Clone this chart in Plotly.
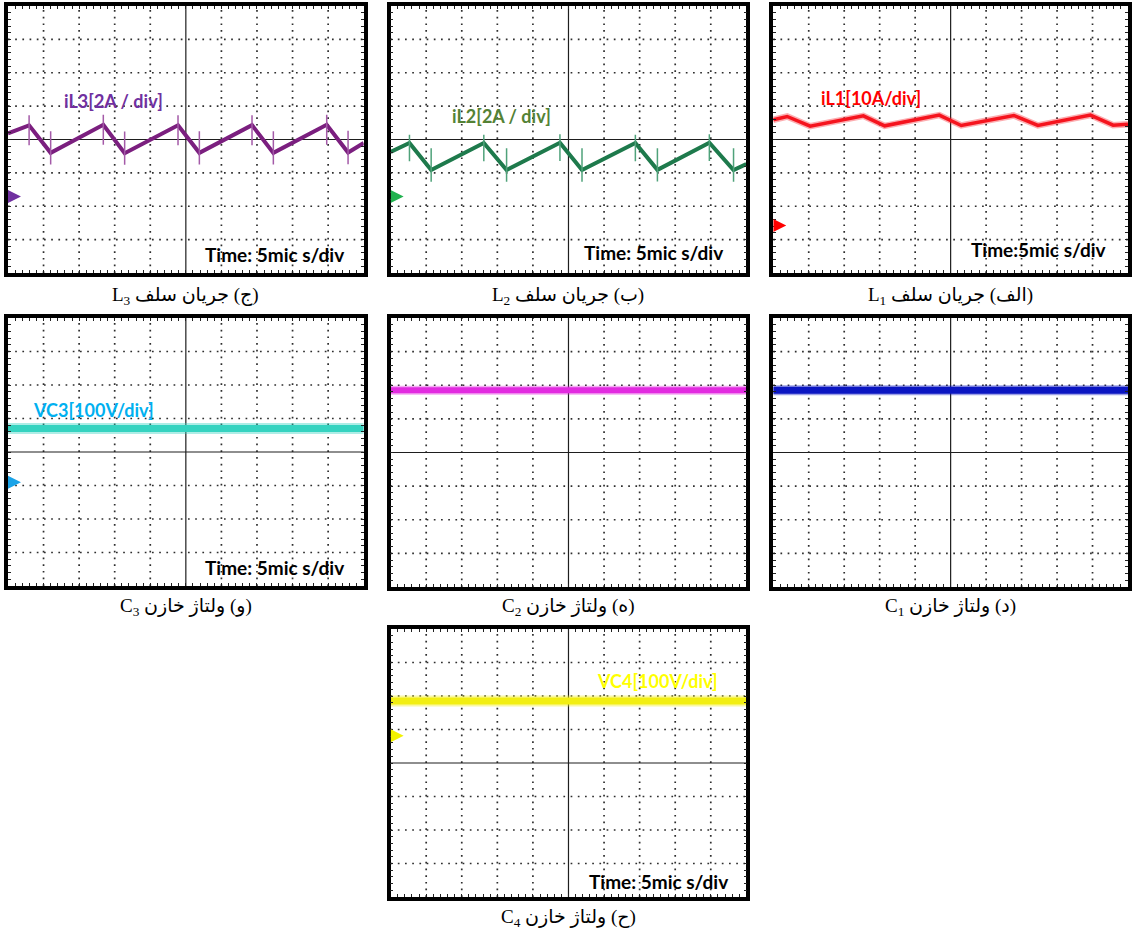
import plotly.graph_objects as go

# ---------------- measured waveforms ----------------
# time base: 10 divisions at 5 µs/div -> 0..50 µs on every screen
time_span_us = [0.0, 50.0]

# inductor L3 current, corners of the triangular ripple (µs, A)
il3_t = [0.0, 2.97, 6.0, 13.4, 16.4, 23.9, 26.9, 34.3, 37.3, 44.8, 47.8, 50.0]
il3_i = [3.79, 4.27, 2.62, 4.30, 2.60, 4.27, 2.62, 4.28, 2.62, 4.30, 2.64, 3.21]
# switching spikes on the corners: extent above / below the trace (A)
il3_spike_up = [0.6, 1.3, 0.6, 1.3, 0.6, 1.3, 0.6, 1.3, 0.6, 1.3]
il3_spike_dn = [1.2, 0.7, 1.2, 0.7, 1.2, 0.7, 1.2, 0.7, 1.2, 0.7]

# inductor L2 current (µs, A)
il2_t = [0.0, 2.65, 5.7, 13.1, 16.3, 23.8, 26.9, 34.4, 37.5, 44.8, 48.2, 50.0]
il2_i = [2.68, 3.21, 1.59, 3.21, 1.59, 3.23, 1.59, 3.21, 1.60, 3.23, 1.59, 1.95]
il2_spike_up = [0.5, 1.3, 0.5, 1.3, 0.5, 1.3, 0.5, 1.3, 0.5, 1.3]
il2_spike_dn = [1.1, 0.7, 1.1, 0.7, 1.1, 0.7, 1.1, 0.7, 1.1, 0.7]

# inductor L1 current (µs, A)
il1_t = [0.0, 1.96, 5.2, 12.7, 15.7, 23.4, 26.5, 33.9, 37.3, 44.7, 47.9, 50.0]
il1_i = [31.7, 32.7, 29.8, 32.9, 29.9, 33.1, 30.0, 33.0, 30.0, 33.1, 30.1, 30.4]

# capacitor voltages (V), flat over the whole sweep
vc3_v = [160.0, 160.0]
vc2_v = [185.0, 185.0]
vc1_v = [185.0, 185.0]
vc4_v = [104.0, 104.0]

W, H = 1132, 938


def fx(px):
    return px / W


def fy(py):
    return 1 - py / H


def caption(symbol, index, words):
    # Latin symbol on the left, the Persian phrase as a right-to-left run
    return "%s<sub>%s</sub> \u202b%s\u202c" % (symbol, index, words)


# ---------------- screen layout ----------------
panels = [
    dict(box=(8, 6, 365, 273), per_div=2, ground_div=-1.71,
         label="iL3[2A / div]", label_color="#7030A0", label_xy=(62, 101),
         time="Time: 5mic s/div", time_xy=(204, 254), gnd_color="#7030A0",
         caption=caption("L", 3, "(ج) جریان سلف"), cap_y=296),
    dict(box=(392, 6, 749, 273), per_div=2, ground_div=-1.71,
         label="iL2[2A / div]", label_color="#548235", label_xy=(452, 116),
         time="Time: 5mic s/div", time_xy=(584, 252), gnd_color="#21B24F",
         caption=caption("L", 2, "(ب) جریان سلف"), cap_y=296),
    dict(box=(776, 6, 1132, 273), per_div=10, ground_div=-2.58,
         label="iL1[10A/div]", label_color="#FF0000", label_xy=(822, 98),
         time="Time:5mic s/div", time_xy=(972, 250), gnd_color="#FF0000",
         caption=caption("L", 1, "(الف) جریان سلف"), cap_y=296),
    dict(box=(8, 318, 365, 586), per_div=100, ground_div=-0.9,
         label="VC3[100V/div]", label_color="#00B0F0", label_xy=(31, 410),
         time="Time: 5mic s/div", time_xy=(204, 567), gnd_color="#1AA3E8",
         caption=caption("C", 3, "(و) ولتاژ خازن"), cap_y=607),
    dict(box=(392, 318, 749, 587), per_div=100, ground_div=0.0,
         label=None, time=None, gnd_color=None,
         caption=caption("C", 2, "(ه) ولتاژ خازن"), cap_y=607),
    dict(box=(776, 318, 1132, 587), per_div=100, ground_div=0.0,
         label=None, time=None, gnd_color=None,
         caption=caption("C", 1, "(د) ولتاژ خازن"), cap_y=607),
    dict(box=(392, 629, 749, 897), per_div=100, ground_div=0.81,
         label="VC4[100V/div]", label_color="#FFFF00", label_xy=(597, 681),
         time="Time: 5mic s/div", time_xy=(589, 881), gnd_color="#F2F200",
         caption=caption("C", 4, "(ح) ولتاژ خازن"), cap_y=918),
]

fig = go.Figure()
layout = dict(width=W, height=H, margin=dict(l=0, r=0, t=0, b=0),
              paper_bgcolor="white", plot_bgcolor="white", showlegend=False)
shapes, annotations = [], []

for k, p in enumerate(panels, start=1):
    sfx = "" if k == 1 else str(k)
    x0, y0, x1, y1 = p["box"]
    s, g = p["per_div"], p["ground_div"]
    center_val = -g * s
    layout["xaxis" + sfx] = dict(
        domain=[fx(x0), fx(x1)], range=time_span_us, anchor="y" + sfx,
        showgrid=False, zeroline=False, showticklabels=False,
        showline=True, linecolor="black", linewidth=3.5, mirror="ticks",
        ticks="inside", ticklen=3, tickwidth=1, tickcolor="#222",
        tick0=0, dtick=1.0, fixedrange=True)
    layout["yaxis" + sfx] = dict(
        domain=[fy(y1), fy(y0)], range=[(-4 - g) * s, (4 - g) * s],
        anchor="x" + sfx,
        showgrid=False, zeroline=False, showticklabels=False,
        showline=True, linecolor="black", linewidth=3.5, mirror="ticks",
        ticks="inside", ticklen=3, tickwidth=1, tickcolor="#222",
        tick0=center_val, dtick=0.2 * s, fixedrange=True)

    xr, yr = "x%s domain" % sfx, "y%s domain" % sfx
    # dotted graticule + solid centre cross
    for i in range(1, 10):
        solid = i == 5
        shapes.append(dict(type="line", xref=xr, yref=yr, x0=i / 10, x1=i / 10,
                           y0=0, y1=1, layer="below",
                           line=dict(color="#1e1e1e" if solid else "#2e2e2e",
                                     width=1.2 if solid else 1.7,
                                     dash="solid" if solid else "1.7px,5px")))
    for j in range(1, 8):
        solid = j == 4
        shapes.append(dict(type="line", xref=xr, yref=yr, y0=j / 8, y1=j / 8,
                           x0=0, x1=1, layer="below",
                           line=dict(color="#1e1e1e" if solid else "#2e2e2e",
                                     width=1.2 if solid else 1.7,
                                     dash="solid" if solid else "1.7px,5.5px")))
    # channel ground reference arrow at 0 on the left edge
    if p["gnd_color"]:
        shapes.append(dict(type="path", xref="x" + sfx, yref="y" + sfx,
                           xsizemode="pixel", ysizemode="pixel",
                           xanchor=0, yanchor=0, layer="above",
                           path="M0,-6.5 L13,0 L0,6.5 Z",
                           fillcolor=p["gnd_color"], line=dict(width=0)))
    if p["label"]:
        lx, ly = p["label_xy"]
        annotations.append(dict(x=fx(lx), y=fy(ly), xref="paper", yref="paper",
                                xanchor="left", yanchor="middle", showarrow=False,
                                text="<b>%s</b>" % p["label"],
                                font=dict(family="Lato", size=18,
                                          color=p["label_color"])))
    if p["time"]:
        tx, ty = p["time_xy"]
        annotations.append(dict(x=fx(tx), y=fy(ty), xref="paper", yref="paper",
                                xanchor="left", yanchor="middle", showarrow=False,
                                text="<b>%s</b>" % p["time"],
                                font=dict(family="Lato", size=19, color="black")))
    annotations.append(dict(x=fx((x0 + x1) / 2), y=fy(p["cap_y"]),
                            xref="paper", yref="paper", xanchor="center",
                            yanchor="middle", showarrow=False,
                            text=p["caption"],
                            font=dict(family="Liberation Serif, DejaVu Sans",
                                      size=19, color="black")))


def ripple(axis, t, i, color, width, up=None, dn=None, spike_color=None):
    fig.add_trace(go.Scatter(x=t, y=i, mode="lines", xaxis="x" + axis,
                             yaxis="y" + axis, hoverinfo="skip",
                             line=dict(color=color, width=width)))
    if up is not None:
        fig.add_trace(go.Scatter(
            x=t[1:-1], y=i[1:-1], mode="markers", xaxis="x" + axis,
            yaxis="y" + axis, hoverinfo="skip",
            marker=dict(size=1, color="rgba(0,0,0,0)"),
            error_y=dict(type="data", symmetric=False, array=up, arrayminus=dn,
                         color=spike_color, thickness=1.5, width=0)))


def band(axis, v, color, width, halo):
    fig.add_trace(go.Scatter(x=time_span_us, y=v, mode="lines", xaxis="x" + axis,
                             yaxis="y" + axis, hoverinfo="skip", opacity=0.4,
                             line=dict(color=color, width=width + halo)))
    fig.add_trace(go.Scatter(x=time_span_us, y=v, mode="lines", xaxis="x" + axis,
                             yaxis="y" + axis, hoverinfo="skip",
                             line=dict(color=color, width=width)))


ripple("", il3_t, il3_i, "#7B1F7F", 4, il3_spike_up, il3_spike_dn, "#A45AA8")
ripple("2", il2_t, il2_i, "#1E7A4C", 4, il2_spike_up, il2_spike_dn, "#4FA27A")
fig.add_trace(go.Scatter(x=il1_t, y=il1_i, mode="lines", xaxis="x3", yaxis="y3",
                         hoverinfo="skip", opacity=0.35,
                         line=dict(color="#F5141E", width=6.5)))
fig.add_trace(go.Scatter(x=il1_t, y=il1_i, mode="lines", xaxis="x3", yaxis="y3",
                         hoverinfo="skip", line=dict(color="#F5141E", width=3.5)))
band("4", vc3_v, "#35D3C0", 7, 4)
band("5", vc2_v, "#E22BE0", 6, 3)
band("6", vc1_v, "#0B16C2", 7, 3)
band("7", vc4_v, "#F2EE12", 7, 4)

layout["shapes"] = shapes
layout["annotations"] = annotations
fig.update_layout(**layout)
fig.write_html("out.html")
